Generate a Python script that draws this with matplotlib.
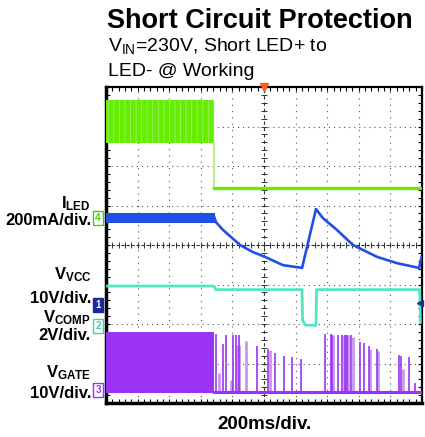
import numpy as np
import matplotlib
matplotlib.use('Agg')
import matplotlib.pyplot as plt
from matplotlib.ticker import MultipleLocator

plt.rcParams['font.family'] = ['Liberation Sans', 'DejaVu Sans']
plt.rcParams['mathtext.default'] = 'regular'
plt.rcParams['hatch.linewidth'] = 0.6

# time axis in ms (200 ms/div, 10 div), vertical axis in divisions (8 div)
# green trace: switching band, then flat after the short
green_band_t = [0, 684]
green_band_hi = [7.67, 7.67]
green_band_lo = [6.58, 6.58]
green_off_t = [684, 2000]
green_off_v = [5.44, 5.44]

# I_LED (blue): noisy band before the short, then decay / recharge
blue_band_t = [0, 688]
blue_band_hi = [4.80, 4.80]
blue_band_lo = [4.56, 4.56]
blue_t = [684, 696, 741, 848, 930, 1006, 1120, 1241, 1329, 1373, 1462, 1563, 1715, 1842, 1981, 1998]
blue_v = [4.72, 4.58, 4.38, 4.00, 3.82, 3.70, 3.49, 3.42, 4.91, 4.68, 4.38, 4.00, 3.70, 3.54, 3.42, 3.70]

# V_VCC / V_COMP (cyan)
cyan_t = [0, 684, 694, 1241, 1244, 1262, 1329, 1333, 1986, 1990]
cyan_v = [2.96, 2.96, 2.87, 2.87, 2.10, 1.97, 1.97, 2.87, 2.87, 2.05]

# V_GATE (purple): solid switching block, then baseline with bursts
gate_band_t = [0, 684]
gate_band_hi = [1.80, 1.80]
gate_band_lo = [0.25, 0.25]
gate_base_t = [684, 2000]
gate_base_v = [0.28, 0.28]
spike_t = [696, 741, 759, 804, 823, 842, 956, 1025, 1070, 1127, 1177, 1234,
           1386, 1424, 1430, 1468, 1494, 1513, 1525, 1551, 1608, 1633, 1665,
           1715, 1854, 1867, 1918, 1956]
spike_top = [1.75, 1.49, 1.72, 1.72, 1.72, 1.72, 1.44, 1.37, 1.27, 1.19, 1.16, 1.11,
             1.75, 1.75, 1.72, 1.72, 1.72, 1.72, 1.72, 1.72, 1.54, 1.52, 1.44,
             1.37, 1.22, 1.19, 1.16, 0.51]
light_t = [715, 791, 826, 834, 840, 886, 1038, 1437, 1506, 1514, 1522, 1530, 1563, 1671, 1721, 1880]
light_top = [0.76, 0.58, 1.47, 1.47, 1.47, 1.57, 1.34, 1.72, 1.72, 1.72, 1.72, 1.72, 1.67, 1.37, 1.32, 0.86]

c_green = '#66ee00'
c_blue = '#1f4fe6'
c_cyan = '#50e6c4'
c_purple = '#9a33f5'
c_purple_light = '#c896f2'

fig = plt.figure(figsize=(4.25, 4.37), dpi=100)
ax = fig.add_axes([106 / 425, 1 - 403 / 437, 316 / 425, 316 / 437])
ax.set_xlim(0, 2000)
ax.set_ylim(0, 8)

# graticule
for gx in range(200, 2000, 200):
    if gx != 1000:
        ax.axvline(gx, color='#555555', lw=0.8, dashes=(1, 4.7), zorder=1)
for gy in range(1, 8):
    if gy != 4:
        ax.axhline(gy, color='#555555', lw=0.8, dashes=(1, 3.55), zorder=1)
ax.axvline(1000, color='#333333', lw=0.8, dashes=(3, 2.7), zorder=1)
ax.axhline(4, color='#333333', lw=0.8, dashes=(3, 1.5), zorder=1)
ax.plot(np.full(41, 1000), np.arange(0, 8.01, 0.2), ls='none', marker='_', ms=4,
        mew=0.7, color='#333333', zorder=1)
ax.plot(np.arange(0, 2001, 40), np.full(51, 4.0), ls='none', marker='|', ms=4,
        mew=0.7, color='#333333', zorder=1)

# green
ax.fill_between(green_band_t, green_band_lo, green_band_hi, facecolor=c_green,
                edgecolor='#9cf066', hatch='|||', lw=0, zorder=3)
ax.plot([green_band_t[-1], green_band_t[-1]], [green_band_lo[-1], green_off_v[0]],
        color='#a8f070', lw=1.2, zorder=3)
ax.plot(green_off_t, green_off_v, color=c_green, lw=2.4, zorder=3)

# blue
ax.fill_between(blue_band_t, blue_band_lo, blue_band_hi, color=c_blue, lw=0, zorder=3)
ax.plot(blue_t, blue_v, color=c_blue, lw=1.9, zorder=3)

# cyan
ax.plot(cyan_t, cyan_v, color=c_cyan, lw=2.0, zorder=3)

# purple
ax.fill_between(gate_band_t, gate_band_lo, gate_band_hi, color=c_purple, lw=0, zorder=3)
ax.vlines(light_t, gate_base_v[0], light_top, color=c_purple_light, lw=2.0, zorder=3)
ax.vlines(spike_t, gate_base_v[0], spike_top, color=c_purple, lw=1.2, zorder=4)
ax.plot(gate_base_t, gate_base_v, color=c_purple, lw=2.2, zorder=4)

# frame and ticks
ax.set_xticks(range(0, 2001, 200))
ax.set_yticks(range(0, 9))
ax.xaxis.set_minor_locator(MultipleLocator(40))
ax.yaxis.set_minor_locator(MultipleLocator(0.2))
ax.tick_params(which='both', direction='in', top=True, right=True,
               labelbottom=False, labelleft=False, length=3, width=0.8)
for side, w in [('left', 2.5), ('bottom', 2.5), ('top', 1.6), ('right', 1.6)]:
    ax.spines[side].set_linewidth(w)

# trigger and channel markers
ax.plot([1000], [8], marker='v', ms=6, color='#ff5a1f', clip_on=False, zorder=6)
ax.plot([1988], [2.52], marker='<', ms=5, color='#1a2a9a', clip_on=False, zorder=6)


def px(x, y):
    return x / 425, 1 - y / 437


fig.text(*px(107, 28), 'Short Circuit Protection', fontsize=19.5, fontweight='bold', va='baseline')
fig.text(*px(108, 51), 'V$_{IN}$=230V, Short LED+ to', fontsize=14, va='baseline')
fig.text(*px(108, 76), 'LED- @ Working', fontsize=14, va='baseline')

labels = [('I$_{LED}$', 208), ('200mA/div.', 225),
          ('V$_{VCC}$', 279), ('10V/div.', 303),
          ('V$_{COMP}$', 322), ('2V/div.', 340),
          ('V$_{GATE}$', 377), ('10V/div.', 398)]
for txt, yb in labels:
    fig.text(*px(91, yb), txt, fontsize=12, fontweight='bold', ha='right', va='baseline')

fig.text(*px(264, 429), '200ms/div.', fontsize=13.5, fontweight='bold', ha='center', va='baseline')

chan = [('4', 218, 'white', '#44cc11', '#44cc11'),
        ('1', 305, '#1a2a9a', '#1a2a9a', 'white'),
        ('2', 326, 'white', '#44d0a0', '#44d0a0'),
        ('3', 390, 'white', '#9a33f5', '#9a33f5')]
for num, yc, face, edge, tc in chan:
    fig.text(*px(98, yc), num, fontsize=7, fontweight='bold', color=tc, ha='center', va='center',
             bbox=dict(boxstyle='square,pad=0.2', fc=face, ec=edge, lw=1))

fig.savefig('out.png', dpi=100)
